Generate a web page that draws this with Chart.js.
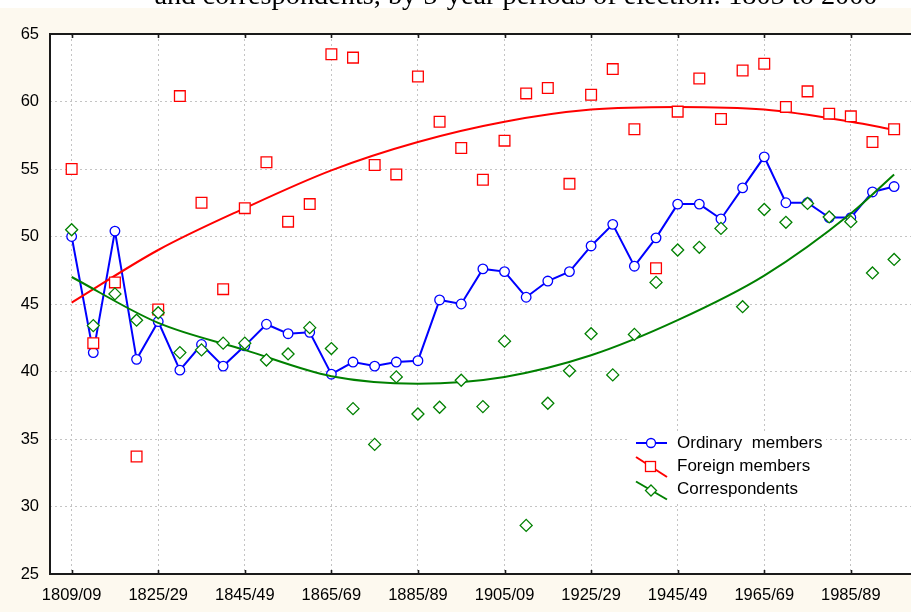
<!DOCTYPE html>
<html>
<head>
<meta charset="utf-8">
<script src="https://cdn.jsdelivr.net/npm/chart.js@4/dist/chart.umd.min.js"></script>
<style>
  html, body { margin: 0; padding: 0; background: #ffffff; }
  #wrap { width: 911px; height: 612px; position: relative; overflow: hidden; }
  canvas { display: block; }
</style>
</head>
<body>
<div id="wrap"><canvas id="chart" width="911" height="612"></canvas></div>
<script>
// Five-year election periods (index 0 .. 38)
const periods = [
  '1805/09','1810/14','1815/19','1820/24','1825/29','1830/34','1835/39','1840/44',
  '1845/49','1850/54','1855/59','1860/64','1865/69','1870/74','1875/79','1880/84',
  '1885/89','1890/94','1895/99','1900/04','1905/09','1910/14','1915/19','1920/24',
  '1925/29','1930/34','1935/39','1940/44','1945/49','1950/54','1955/59','1960/64',
  '1965/69','1970/74','1975/79','1980/84','1985/89','1990/94','1995/99'
];
const tickIndex = [0, 4, 8, 12, 16, 20, 24, 28, 32, 36];
const tickLabels = ['1809/09','1825/29','1845/49','1865/69','1885/89','1905/09','1925/29','1945/49','1965/69','1985/89'];
const yTicks = [25, 30, 35, 40, 45, 50, 55, 60, 65];

// Mean age at election
const ordinary = [50.0, 41.4, 50.4, 40.9, 43.7, 40.1, 42.0, 40.4, 41.9, 43.5,
                  42.8, 42.9, 39.8, 40.7, 40.4, 40.7, 40.8, 45.3, 45.0, 47.6,
                  47.4, 45.5, 46.7, 47.4, 49.3, 50.9, 47.8, 49.9, 52.4, 52.4,
                  51.3, 53.6, 55.9, 52.5, 52.5, 51.4, 51.4, 53.3, 53.7];
const foreign = [55.0, 42.1, 46.6, 33.7, 44.6, 60.4, 52.5, 46.1, 52.1, 55.5,
                 51.1, 52.4, 63.5, 63.25, 55.3, 54.6, 61.85, 58.5, 56.55, 54.2,
                 57.1, 60.6, 61.0, 53.9, 60.5, 62.4, 57.95, 47.65, 59.25, 61.7,
                 58.7, 62.3, 62.8, 59.6, 60.75, 59.1, 58.9, 57.0, 57.95];
const correspondents = [50.5, 43.4, 45.75, 43.8, 44.35, 41.4, 41.6, 42.1, 42.1, 40.85,
                        41.3, 43.25, 41.7, 37.25, 34.6, 39.6, 36.85, 37.35, 39.35, 37.4,
                        42.25, 28.6, 37.65, 40.05, 42.8, 39.75, 42.75, 46.6, 49.0, 49.2,
                        50.6, 44.8, 52.0, 51.05, 52.45, 51.45, 51.1, 47.3, 48.3];

// Fitted trend curves, sampled at these period indexes
const trendIndex = [0, 4, 8, 12, 16, 20, 24, 28, 32, 36, 38];
const foreignTrend = [45.1, 49.0, 52.1, 54.9, 57.0, 58.5, 59.4, 59.6, 59.4, 58.5, 57.9];
const correspondentsTrend = [47.0, 43.6, 41.6, 39.65, 39.1, 39.6, 41.2, 43.8, 47.1, 51.7, 54.6];

const legendLabels = ['Ordinary  members', 'Foreign members', 'Correspondents'];
const titleText = 'and correspondents, by 5-year periods of election: 1805 to 2000';

const BLUE = '#0000ff', RED = '#ff0000', GREEN = '#008000';
const CREAM = '#fdf9ef';
const SANS = '"Liberation Sans", Arial, sans-serif';

const toXY = (vals, idx) => vals.map((v, i) => ({ x: idx ? idx[i] : i, y: v }));

const framePlugin = {
  id: 'frame',
  beforeDraw(chart) {
    const { ctx, chartArea: a, width, height } = chart;
    ctx.save();
    ctx.fillStyle = '#ffffff';
    ctx.fillRect(0, 0, width, height);
    ctx.fillStyle = CREAM;
    ctx.fillRect(0, 8, width, height - 8);
    ctx.fillStyle = '#ffffff';
    ctx.fillRect(a.left, a.top, a.right - a.left, a.bottom - a.top);
    // Caption line running off the top edge
    ctx.fillStyle = '#000000';
    ctx.font = '28.3px "Liberation Serif", "Times New Roman", serif';
    ctx.textAlign = 'center';
    ctx.textBaseline = 'alphabetic';
    ctx.fillText(titleText, 516, 3.5);
    ctx.restore();
  },
  afterDraw(chart) {
    const { ctx, chartArea: a } = chart;
    const xs = chart.scales.x;
    ctx.save();
    ctx.strokeStyle = '#1a1a1a';
    ctx.lineWidth = 2;
    ctx.beginPath();
    ctx.moveTo(a.right, a.top); ctx.lineTo(a.left, a.top);
    ctx.lineTo(a.left, a.bottom); ctx.lineTo(a.right, a.bottom);
    ctx.stroke();
    // Inward tick marks on top and bottom axes
    ctx.lineWidth = 1.6;
    ctx.beginPath();
    tickIndex.forEach(v => {
      const px = Math.round(xs.getPixelForValue(v)) + 0.5;
      ctx.moveTo(px, a.bottom); ctx.lineTo(px, a.bottom - 4);
      ctx.moveTo(px, a.top); ctx.lineTo(px, a.top + 4);
    });
    ctx.stroke();

    // Legend
    const lx = 636, tx = 677, rows = [443, 466.5, 489.5];
    ctx.fillStyle = '#ffffff';
    ctx.fillRect(630, 432, 196, 70);
    ctx.lineWidth = 2;
    // Ordinary members: horizontal line with circle
    ctx.strokeStyle = BLUE;
    ctx.beginPath(); ctx.moveTo(lx, rows[0]); ctx.lineTo(lx + 31, rows[0]); ctx.stroke();
    ctx.lineWidth = 1.3;
    ctx.fillStyle = '#ffffff';
    ctx.beginPath(); ctx.arc(lx + 15, rows[0], 4.5, 0, Math.PI * 2); ctx.fill(); ctx.stroke();
    // Foreign members: diagonal line with square
    ctx.strokeStyle = RED; ctx.lineWidth = 2;
    ctx.beginPath(); ctx.moveTo(lx, rows[1] - 9.5); ctx.lineTo(lx + 31, rows[1] + 10.5); ctx.stroke();
    ctx.lineWidth = 1.3;
    ctx.fillRect(lx + 9.5, rows[1] - 5, 10, 10);
    ctx.strokeRect(lx + 9.5, rows[1] - 5, 10, 10);
    // Correspondents: diagonal line with diamond
    ctx.strokeStyle = GREEN; ctx.lineWidth = 2;
    ctx.beginPath(); ctx.moveTo(lx, rows[2] - 8); ctx.lineTo(lx + 31, rows[2] + 10); ctx.stroke();
    ctx.lineWidth = 1.3;
    ctx.beginPath();
    const dx = lx + 15, dy = rows[2] + 1;
    ctx.moveTo(dx, dy - 5.5); ctx.lineTo(dx + 5.5, dy); ctx.lineTo(dx, dy + 5.5); ctx.lineTo(dx - 5.5, dy);
    ctx.closePath(); ctx.fill(); ctx.stroke();

    ctx.fillStyle = '#000000';
    ctx.font = '17px ' + SANS;
    ctx.textAlign = 'left';
    ctx.textBaseline = 'middle';
    legendLabels.forEach((t, i) => ctx.fillText(t, tx, rows[i]));
    ctx.restore();
  }
};

new Chart(document.getElementById('chart'), {
  type: 'line',
  data: {
    datasets: [
      {
        label: legendLabels[2],
        data: toXY(correspondents),
        showLine: false,
        pointStyle: 'rectRot',
        pointRadius: 6,
        pointBorderWidth: 1.3,
        pointBorderColor: GREEN,
        pointBackgroundColor: '#ffffff',
        order: 1
      },
      {
        label: legendLabels[2] + ' trend',
        data: toXY(correspondentsTrend, trendIndex),
        borderColor: GREEN,
        borderWidth: 2,
        pointRadius: 0,
        cubicInterpolationMode: 'monotone',
        order: 2
      },
      {
        label: legendLabels[1],
        data: toXY(foreign),
        showLine: false,
        pointStyle: 'rect',
        pointRadius: 7.6,
        pointBorderWidth: 1.3,
        pointBorderColor: RED,
        pointBackgroundColor: '#ffffff',
        order: 3
      },
      {
        label: legendLabels[1] + ' trend',
        data: toXY(foreignTrend, trendIndex),
        borderColor: RED,
        borderWidth: 2,
        pointRadius: 0,
        cubicInterpolationMode: 'monotone',
        order: 4
      },
      {
        label: legendLabels[0],
        data: toXY(ordinary),
        borderColor: BLUE,
        borderWidth: 2,
        tension: 0,
        pointStyle: 'circle',
        pointRadius: 4.8,
        pointBorderWidth: 1.3,
        pointBorderColor: BLUE,
        pointBackgroundColor: '#ffffff',
        order: 5
      }
    ]
  },
  options: {
    responsive: false,
    animation: false,
    devicePixelRatio: 1,
    layout: { autoPadding: false, padding: { top: 34, right: 0, left: 0, bottom: 0 } },
    plugins: {
      legend: { display: false },
      title: { display: false },
      tooltip: { enabled: false }
    },
    scales: {
      x: {
        type: 'linear',
        min: -1,
        max: 38.78,
        afterFit: s => { s.height = 38; s.paddingLeft = 0; s.paddingRight = 0; },
        afterBuildTicks: s => { s.ticks = tickIndex.map(v => ({ value: v })); },
        grid: { color: '#c4c4c4', lineWidth: 1, drawTicks: false },
        border: { display: false, dash: [2, 3] },
        ticks: {
          autoSkip: false,
          maxRotation: 0,
          padding: 12,
          color: '#000000',
          font: { family: SANS, size: 16.5 },
          callback: v => tickLabels[tickIndex.indexOf(v)]
        }
      },
      y: {
        min: 25,
        max: 65,
        afterFit: s => { s.width = 50; s.paddingTop = 0; s.paddingBottom = 0; },
        afterBuildTicks: s => { s.ticks = yTicks.map(v => ({ value: v })); },
        grid: { color: '#c4c4c4', lineWidth: 1, drawTicks: false },
        border: { display: false, dash: [2, 3] },
        ticks: {
          padding: 11,
          color: '#000000',
          font: { family: SANS, size: 16.5 }
        }
      }
    }
  },
  plugins: [framePlugin]
});
</script>
</body>
</html>
